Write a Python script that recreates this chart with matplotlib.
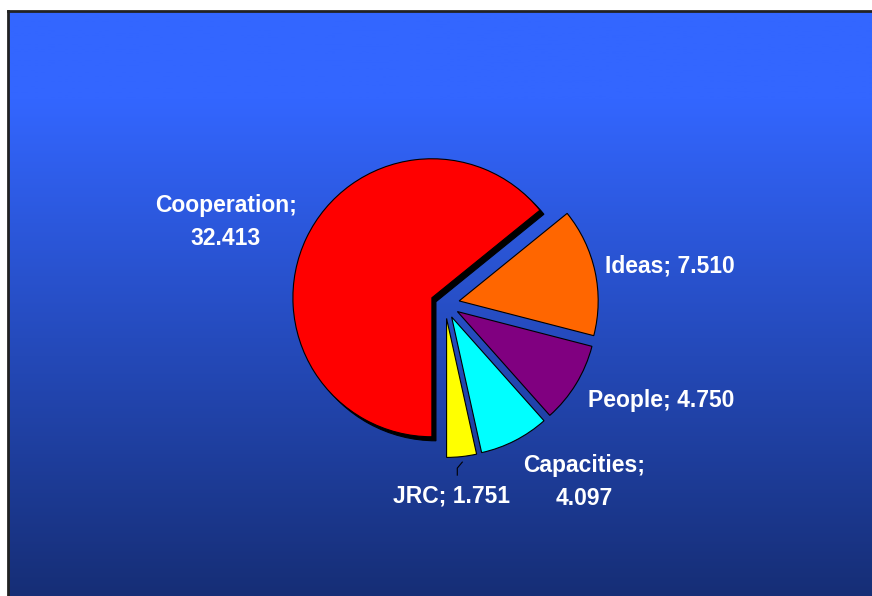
import numpy as np
import matplotlib.pyplot as plt
from matplotlib.patches import Shadow
from matplotlib.colors import LinearSegmentedColormap

# Budget data
labels = ['Cooperation', 'Ideas', 'People', 'Capacities', 'JRC']
values = [32.413, 7.510, 4.750, 4.097, 1.751]
value_text = ['32.413', '7.510', '4.750', '4.097', '1.751']
colors = ['#FF0000', '#FF6600', '#800080', '#00FFFF', '#FFFF00']

W, H = 872, 596
fig = plt.figure(figsize=(W / 100, H / 100), dpi=100)
fig.patch.set_facecolor('white')

# Gradient background with frame
bg = fig.add_axes([8 / W, 0, 1 - 8 / W, (H - 11) / H])
grad = np.linspace(0, 1, 256).reshape(-1, 1)
cmap = LinearSegmentedColormap.from_list(
    'bg', [(0, '#3366FF'), (0.15, '#3366FF'), (1, '#162E76')], N=256)
bg.imshow(grad, aspect='auto', cmap=cmap, extent=[0, 1, 0, 1], origin='upper')
bg.set_xticks([])
bg.set_yticks([])
for side in ['right', 'bottom']:
    bg.spines[side].set_visible(False)
for side in ['left', 'top']:
    bg.spines[side].set_color('#222222')
    bg.spines[side].set_linewidth(2)

# Pie axes in pixel units
ax = fig.add_axes([0, 0, 1, 1])
ax.set_xlim(0, W)
ax.set_ylim(0, H)
ax.set_aspect('equal')
ax.axis('off')

R = 139
cx, cy = 445, H - 304
wedges, _ = ax.pie(values, colors=colors, startangle=270, counterclock=False,
                   radius=R, center=(cx, cy), explode=[14.5] * 5,
                   wedgeprops=dict(edgecolor='black', linewidth=0.8))
ax.set_xlim(0, W)
ax.set_ylim(0, H)

# Black shadow behind Cooperation slice
sh = Shadow(wedges[0], 2.9, -2.9, facecolor='black', edgecolor='black', alpha=1)
ax.add_patch(sh)

tp = dict(color='white', fontsize=16.5, fontweight='bold',
          family=['Liberation Sans', 'DejaVu Sans'], ha='center', va='center',
          linespacing=1.55)
ax.text(226, H - 222, labels[0] + ';\n' + value_text[0], **tp)
ax.text(670, H - 266, labels[1] + '; ' + value_text[1], **tp)
ax.text(661, H - 400, labels[2] + '; ' + value_text[2], **tp)
ax.text(584, H - 482, labels[3] + ';\n' + value_text[3], **tp)
ax.text(451, H - 496, labels[4] + '; ' + value_text[4], **tp)

# Leader line for JRC
w = wedges[4]
mid = np.deg2rad((w.theta1 + w.theta2) / 2)
x0 = w.center[0] + R * 1.04 * np.cos(mid)
y0 = w.center[1] + R * 1.04 * np.sin(mid)
ax.plot([x0, x0 - 5, x0 - 5], [y0, y0 - 6, y0 - 13], color='black', lw=0.8)

fig.savefig('out.png', dpi=100)
